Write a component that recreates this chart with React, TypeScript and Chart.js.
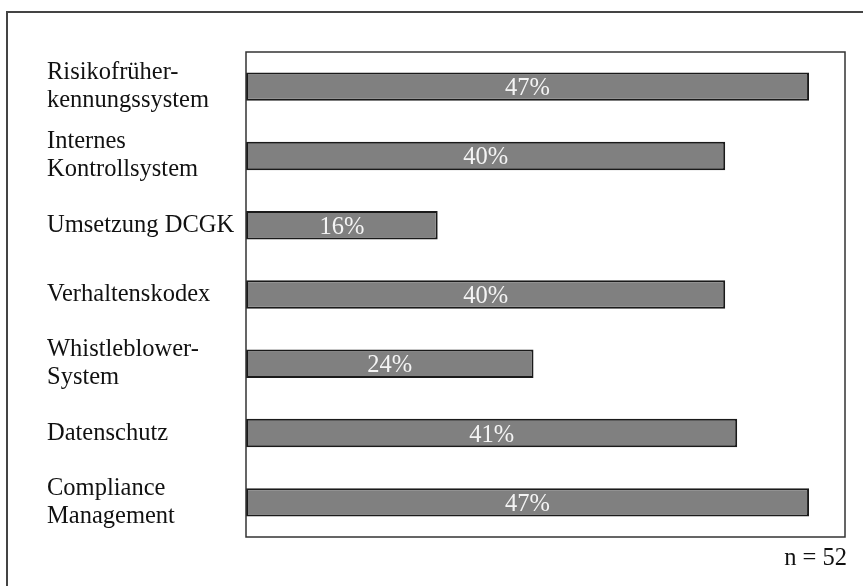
import React, { useEffect, useRef } from "react";
import { Chart, registerables } from "chart.js";

Chart.register(...registerables);

const categories: string[][] = [
  ["Risikofrüher-", "kennungssystem"],
  ["Internes", "Kontrollsystem"],
  ["Umsetzung DCGK"],
  ["Verhaltenskodex"],
  ["Whistleblower-", "System"],
  ["Datenschutz"],
  ["Compliance", "Management"],
];
const values: number[] = [47, 40, 16, 40, 24, 41, 47];
const sampleNote = "n = 52";
const xMax = 50;

const FONT = "'Liberation Serif', 'Times New Roman', serif";

export default function App() {
  const ref = useRef<HTMLCanvasElement | null>(null);

  useEffect(() => {
    if (!ref.current) return;
    const framePlugin = {
      id: "frame",
      beforeDraw(chart: any) {
        const ctx = chart.ctx;
        ctx.save();
        ctx.fillStyle = "#ffffff";
        ctx.fillRect(0, 0, chart.width, chart.height);
        ctx.strokeStyle = "#444444";
        ctx.lineWidth = 2;
        ctx.beginPath();
        ctx.moveTo(7, chart.height + 5);
        ctx.lineTo(7, 12);
        ctx.lineTo(chart.width + 5, 12);
        ctx.stroke();
        ctx.restore();
      },
      afterDraw(chart: any) {
        const ctx = chart.ctx;
        const a = chart.chartArea;
        ctx.save();
        ctx.strokeStyle = "#333333";
        ctx.lineWidth = 1.5;
        ctx.strokeRect(a.left, a.top, a.right - a.left, a.bottom - a.top);
        ctx.fillStyle = "#111111";
        ctx.font = `24.5px ${FONT}`;
        ctx.textAlign = "right";
        ctx.textBaseline = "middle";
        ctx.fillText(sampleNote, a.right + 2, a.bottom + 22);
        ctx.restore();
      },
      afterDatasetsDraw(chart: any) {
        const ctx = chart.ctx;
        const meta = chart.getDatasetMeta(0);
        ctx.save();
        ctx.fillStyle = "#f4f4f4";
        ctx.font = `24.5px ${FONT}`;
        ctx.textAlign = "center";
        ctx.textBaseline = "middle";
        meta.data.forEach((bar: any, i: number) => {
          const cx = (bar.x + bar.base) / 2;
          ctx.fillText(`${values[i]}%`, cx, bar.y + 2);
        });
        ctx.restore();
      },
    };

    const chart = new Chart(ref.current, {
      type: "bar",
      data: {
        labels: categories,
        datasets: [
          {
            data: values,
            backgroundColor: "#808080",
            borderColor: "#1a1a1a",
            borderWidth: 2,
            borderSkipped: false,
            barPercentage: 0.41,
            categoryPercentage: 1,
          },
        ],
      },
      options: {
        indexAxis: "y",
        animation: false,
        responsive: false,
        maintainAspectRatio: false,
        layout: { padding: { left: 47, top: 52, right: 18, bottom: 49 } },
        plugins: {
          legend: { display: false },
          tooltip: { enabled: false },
        },
        scales: {
          x: {
            display: false,
            min: 0,
            max: xMax,
            grid: { display: false },
          },
          y: {
            grid: { display: false, drawTicks: false },
            border: { display: false },
            afterFit(scale: any) {
              scale.width = 199;
            },
            ticks: {
              crossAlign: "far",
              color: "#111111",
              padding: 0,
              font: { family: FONT, size: 24.5, lineHeight: 1.15 },
            },
          },
        },
      },
      plugins: [framePlugin],
    } as any);
    return () => chart.destroy();
  }, []);

  return (
    <div style={{ position: "fixed", left: 0, top: 0, width: 863, height: 586, background: "#fff" }}>
      <canvas ref={ref} width={863} height={586} style={{ width: 863, height: 586, display: "block" }} />
    </div>
  );
}
